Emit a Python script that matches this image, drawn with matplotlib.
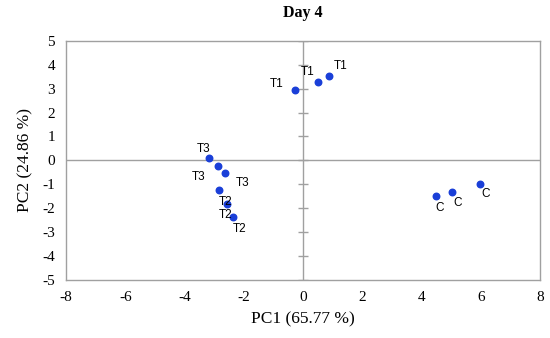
import numpy as np
import matplotlib.pyplot as plt

plt.rcParams['axes.unicode_minus'] = False

# PCA scores, day 4
labels = ['T1', 'T1', 'T1', 'T3', 'T3', 'T3', 'T2', 'T2', 'T2', 'C', 'C', 'C']
pc1 = [-0.27, 0.52, 0.86, -3.17, -2.86, -2.64, -2.85, -2.58, -2.36, 4.48, 5.02, 5.96]
pc2 = [2.95, 3.30, 3.54, 0.12, -0.22, -0.52, -1.22, -1.81, -2.35, -1.49, -1.32, -0.98]
# label offsets in points (dx, dy)
offsets = [(-13, 4), (-8, 7), (4, 7), (-4, 6), (-14, -8), (8, -7),
           (0, -9), (-1, -8), (0, -9), (0, -9), (1, -8), (1, -7)]

xticks = np.arange(-8, 9, 2)
yticks = np.arange(-5, 6, 1)

fig = plt.figure(figsize=(5.5, 3.38), dpi=100)
ax = fig.add_axes([0.12, 0.172, 0.862, 0.707])

gray = '#a0a0a0'
ax.axhline(0, color=gray, lw=1, zorder=1)
ax.axvline(0, color=gray, lw=1, zorder=1)
ax.plot(np.zeros_like(yticks), yticks, ls='none', marker='_', ms=6.5, mew=1, color=gray, zorder=1)

ax.scatter(pc1, pc2, s=22, color='#1a3fd8', zorder=3)
for lab, x, y, off in zip(labels, pc1, pc2, offsets):
    ax.annotate(lab, (x, y), xytext=off, textcoords='offset points',
                fontsize=8.5, family='Liberation Sans', ha='left' if off[0] >= 0 else 'center',
                va='center')

ax.set_xlim(-8, 8)
ax.set_ylim(-5, 5)
ax.set_xticks(xticks)
ax.set_yticks(yticks)
ax.tick_params(length=0, labelsize=11, pad=8)
for t in ax.get_xticklabels() + ax.get_yticklabels():
    t.set_family('Liberation Serif')
for s in ax.spines.values():
    s.set_color(gray)
    s.set_linewidth(1)

ax.set_xlabel('PC1 (65.77 %)', family='Liberation Serif', fontsize=12.5, labelpad=5)
ax.set_ylabel('PC2 (24.86 %)', family='Liberation Serif', fontsize=12.5, labelpad=6)
ax.set_title('Day 4', family='Liberation Serif', fontsize=11.5, fontweight='bold', pad=17)

fig.savefig('out.png')
